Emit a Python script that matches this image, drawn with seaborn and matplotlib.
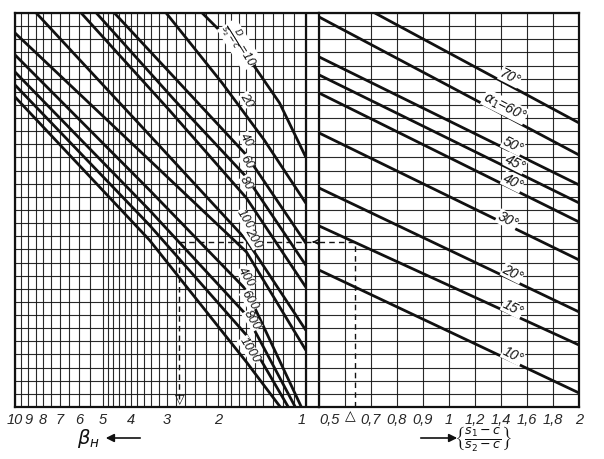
import numpy as np
import pandas as pd
import matplotlib
matplotlib.use("Agg")
import matplotlib.pyplot as plt
import seaborn as sns

sns.set_theme(style="white")
plt.rcParams["font.family"] = ["Liberation Sans", "DejaVu Sans"]
plt.rcParams["mathtext.fontset"] = "dejavusans"

INK = "#111111"

# ---------- left field: beta_n against D/(s2-c) ----------
left_ratio = [10, 20, 40, 60, 80, 100, 200, 400, 600, 800, 1000]
left_beta = [
    [2.27, 1.53, 1.23, 1.0],
    [3.02, 1.94, 1.39, 1.0],
    [4.55, 2.72, 1.60, 1.0],
    [5.25, 2.83, 1.60, 1.0],
    [5.92, 2.95, 1.60, 1.0],
    [8.45, 3.45, 1.60, 1.0],
    [10.0, 3.45, 1.60, 1.0],
    [10.0, 3.45, 1.60, 1.035],
    [10.0, 3.45, 1.60, 1.086],
    [10.0, 3.45, 1.60, 1.148],
    [10.0, 3.45, 1.60, 1.223],
]
left_y = [
    [30.0, 26.2, 23.15, 19.04],
    [30.0, 24.68, 20.34, 15.54],
    [30.0, 24.68, 19.19, 12.49],
    [30.0, 23.38, 17.52, 10.81],
    [30.0, 22.62, 15.92, 9.14],
    [30.0, 20.72, 12.72, 5.86],
    [28.48, 18.81, 11.81, 4.34],
    [26.81, 16.53, 8.91, 0.0],
    [25.51, 15.0, 7.01, 0.0],
    [24.52, 13.86, 5.48, 0.0],
    [23.61, 12.72, 3.43, 0.0],
]
left_lab_beta = [1.69, 1.60, 1.60, 1.60, 1.60, 1.62, 1.52, 1.60, 1.56, 1.53, 1.56]
left_lab_y = [27.57, 23.38, 20.34, 18.66, 17.06, 14.3, 12.85, 9.90, 8.15, 6.63, 4.34]

# ---------- right field: (s1-c)/(s2-c) against alpha1 ----------
alpha = [70, 60, 50, 45, 40, 30, 20, 15, 10]
right_x = [
    [0.715, 2.0],
    [0.5, 2.0],
    [0.5, 2.0],
    [0.5, 2.0],
    [0.5, 2.0],
    [0.5, 2.0],
    [0.5, 2.0],
    [0.5, 2.0],
    [0.5, 2.0],
]
right_y = [
    [30.0, 21.63],
    [29.70, 19.19],
    [26.66, 16.91],
    [25.29, 15.54],
    [23.91, 14.09],
    [20.87, 11.20],
    [16.68, 7.24],
    [13.79, 4.72],
    [10.43, 1.07],
]
right_lab_x = [1.47, 1.43, 1.49, 1.51, 1.49, 1.45, 1.49, 1.49, 1.49]
right_lab_y = [25.13, 22.85, 19.95, 18.58, 17.14, 14.24, 10.21, 7.54, 3.96]

# axis ticks
beta_ticks = [1, 2, 3, 4, 5, 6, 7, 8, 9, 10]
beta_minor = ([1.1, 1.2, 1.3, 1.4, 1.5, 1.6, 1.7, 1.8, 1.9]
              + [2.2, 2.4, 2.6, 2.8, 3.2, 3.4, 3.6, 3.8, 4.2, 4.4, 4.6, 4.8]
              + [5.5, 6.5, 7.5, 8.5, 9.5])
ratio_ticks = [0.5, 0.6, 0.7, 0.8, 0.9, 1.0, 1.2, 1.4, 1.6, 1.8, 2.0]
ratio_labels = ["0,5", "", "0,7", "0,8", "0,9", "1", "1,2", "1,4", "1,6", "1,8", "2"]

# worked example
ex_beta = 2.72
ex_ratio = 0.64
ex_y = 12.57

left_df = pd.DataFrame([
    {"beta": b, "y": y, "curve": r}
    for r, bs, ys in zip(left_ratio, left_beta, left_y)
    for b, y in zip(bs, ys)
])
right_df = pd.DataFrame([
    {"ratio": x, "y": y, "curve": a}
    for a, xs, ys in zip(alpha, right_x, right_y)
    for x, y in zip(xs, ys)
])

fig = plt.figure(figsize=(6.04, 4.59), dpi=100)
axL = fig.add_axes([15 / 604, 1 - 407 / 459, 304 / 604, 394 / 459])
axR = fig.add_axes([319 / 604, 1 - 407 / 459, 260 / 604, 394 / 459])

# ---------- left axes ----------
axL.set_xscale("log")
axL.set_xlim(10, 0.9)
axL.set_ylim(0, 30)
axL.set_xticks(beta_ticks, [str(t) for t in beta_ticks])
axL.set_xticks(beta_minor, minor=True)
axL.xaxis.set_minor_formatter(plt.NullFormatter())

# ---------- right axes ----------
u_idx = np.arange(len(ratio_ticks))
def fwd(v):
    return np.interp(v, ratio_ticks, u_idx)
def inv(u):
    return np.interp(u, u_idx, ratio_ticks)
axR.set_xscale("function", functions=(fwd, inv))
axR.set_xlim(0.5, 2.0)
axR.set_ylim(0, 30)
axR.set_xticks(ratio_ticks, ratio_labels)
axR.xaxis.set_minor_locator(plt.NullLocator())

sns.lineplot(data=left_df, x="beta", y="y", units="curve", estimator=None,
             sort=False, color=INK, lw=2.0, ax=axL)
sns.lineplot(data=right_df, x="ratio", y="y", units="curve", estimator=None,
             sort=False, color=INK, lw=2.0, ax=axR)

for ax in (axL, axR):
    ax.set_yticks(range(0, 31))
    ax.set_yticklabels([])
    ax.grid(True, which="both", color=INK, lw=0.8, alpha=0.9)
    ax.tick_params(length=0, pad=4, labelsize=10.5)
    for lab in ax.get_xticklabels():
        lab.set_fontstyle("italic")
    for s in ax.spines.values():
        s.set_color(INK)
        s.set_linewidth(1.6)
    ax.set_xlabel("")
    ax.set_ylabel("")
axL.spines["right"].set_visible(False)
axL.axvline(1.0, color=INK, lw=1.6)
axL.get_xticklabels()[0].set_horizontalalignment("right")
axR.get_xticklabels()[0].set_horizontalalignment("left")

# curve labels
for i, (r, bx, by) in enumerate(zip(left_ratio, left_lab_beta, left_lab_y)):
    txt = r"$\frac{D}{s_2-c}$=10" if i == 0 else str(r)
    axL.text(bx, by, txt, rotation=-58, rotation_mode="anchor", ha="center",
             va="center", fontsize=9, fontstyle="italic", color=INK,
             bbox=dict(fc="white", ec="none", pad=0.2))
for a, rx, ry in zip(alpha, right_lab_x, right_lab_y):
    txt = r"$\alpha_1$=" + f"{a}°" if a == 60 else f"{a}°"
    axR.text(rx, ry, txt, rotation=-27, rotation_mode="anchor", ha="center",
             va="center", fontsize=10, fontstyle="italic", color=INK,
             bbox=dict(fc="white", ec="none", pad=0.3))

# worked example path
dash = dict(color=INK, lw=1.0, ls=(0, (4, 3)))
axL.plot([ex_beta, ex_beta], [0.6, ex_y], **dash)
axL.plot([ex_beta, 0.9], [ex_y, ex_y], **dash)
axR.plot([0.5, ex_ratio], [ex_y, ex_y], **dash)
axR.plot([ex_ratio, ex_ratio], [0, ex_y], **dash)
axL.annotate("", xy=(0.97, ex_y), xytext=(0.92, ex_y),
             arrowprops=dict(arrowstyle="->", color=INK, lw=1.0),
             annotation_clip=False)
axL.text(ex_beta, 0.05, "▽", ha="center", va="bottom", fontsize=9, color=INK,
         family="DejaVu Sans")
axR.text(ex_ratio, -0.005, "△", transform=axR.get_xaxis_transform(),
         ha="right", va="top", fontsize=10, color=INK, family="DejaVu Sans")

# axis captions with arrows
fig.text(88 / 604, 20 / 459, r"$\beta_н$", ha="center", va="center",
         fontsize=14, color=INK)
axL.annotate("", xy=(103, 21), xycoords="figure pixels", xytext=(143, 21),
             textcoords="figure pixels",
             arrowprops=dict(arrowstyle="-|>", color=INK, lw=1.2),
             annotation_clip=False)
axR.annotate("", xy=(460, 21), xycoords="figure pixels", xytext=(418, 21),
             textcoords="figure pixels",
             arrowprops=dict(arrowstyle="-|>", color=INK, lw=1.2),
             annotation_clip=False)
fig.text(483 / 604, 19 / 459, r"$\left\{\frac{s_1-c}{s_2-c}\right\}$",
         ha="center", va="center", fontsize=13, color=INK)

fig.savefig("out.png", dpi=100, facecolor="white")
